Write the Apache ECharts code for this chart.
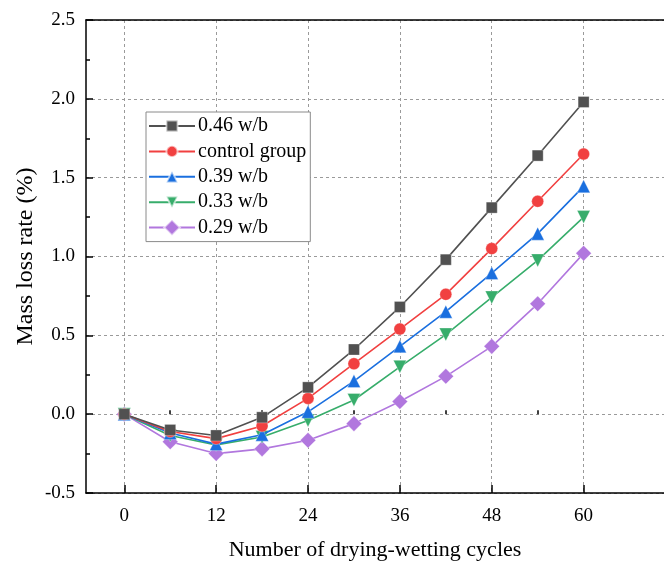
<!DOCTYPE html>
<html>
<head>
<meta charset="utf-8">
<script src="https://cdn.jsdelivr.net/npm/echarts@6/dist/echarts.min.js"></script>
<style>html,body{margin:0;padding:0;background:#fff}#c{width:664px;height:563px}</style>
</head>
<body>
<div id="c"></div>
<script>
const cycles = [0, 6, 12, 18, 24, 30, 36, 42, 48, 54, 60];
const seriesNames = ['0.46 w/b', 'control group', '0.39 w/b', '0.33 w/b', '0.29 w/b'];
const wb046 = [0, -0.10, -0.135, -0.02, 0.17, 0.41, 0.68, 0.98, 1.31, 1.64, 1.98];
const control = [0, -0.11, -0.155, -0.075, 0.10, 0.32, 0.54, 0.76, 1.05, 1.35, 1.65];
const wb039 = [0, -0.12, -0.19, -0.13, 0.015, 0.21, 0.43, 0.65, 0.895, 1.145, 1.445];
const wb033 = [0, -0.135, -0.195, -0.145, -0.04, 0.09, 0.30, 0.505, 0.74, 0.975, 1.25];
const wb029 = [0, -0.175, -0.25, -0.22, -0.165, -0.06, 0.08, 0.24, 0.43, 0.70, 1.02];
const majorX = [0, 12, 24, 36, 48, 60];
const minorX = [6, 18, 30, 42, 54];
const xTitle = 'Number of drying-wetting cycles';
const yTitle = 'Mass loss rate (%)';

const FONT = 'Liberation Serif';
const colors = ['#515151', '#F14040', '#1A6FDF', '#37AD6B', '#B177DE'];
const symbols = ['rect', 'circle', 'triangle', 'triangle', 'rect'];
const symbolSizes = [11, 12, 13, 13, 11];
const rotates = [0, 0, 0, 180, 45];
const allData = [wb046, control, wb039, wb033, wb029];

const chart = echarts.init(document.getElementById('c'), null, {renderer: 'canvas'});
const xCommon = {type: 'value', min: -5, max: 70.5};
chart.setOption({
  animation: false,
  color: colors,
  grid: {left: 86, top: 20, right: 0, height: 473, show: false, outerBoundsMode: 'none', containLabel: false},
  legend: {
    orient: 'vertical', left: 146, top: 112,
    borderColor: '#8a8a8a', borderWidth: 1, backgroundColor: '#fff',
    padding: [4, 4, 4, 2], itemWidth: 46, itemHeight: 14, itemGap: 5.4,
    textStyle: {fontFamily: FONT, fontSize: 20, lineHeight: 16, color: '#000', padding: [0, 0, 0, -2]},
    data: seriesNames
  },
  xAxis: [
    Object.assign({}, xCommon, {
      name: xTitle, nameLocation: 'middle', nameGap: 46, nameMoveOverlap: false,
      nameTextStyle: {fontFamily: FONT, fontSize: 22, color: '#000'},
      axisLine: {show: true, onZero: false, lineStyle: {color: '#000', width: 1.5}},
      axisTick: {show: true, inside: true, length: 8, customValues: majorX, lineStyle: {color: '#000', width: 1.5}},
      axisLabel: {customValues: majorX, fontFamily: FONT, fontSize: 19, color: '#000', margin: 14},
      splitLine: {show: true, lineStyle: {color: '#9a9a9a', type: [3, 3], width: 1}}
    }),
    Object.assign({}, xCommon, {
      position: 'bottom',
      axisLine: {show: false},
      axisTick: {show: true, inside: true, length: 4, customValues: minorX, lineStyle: {color: '#000', width: 1.5}},
      axisLabel: {show: false, customValues: minorX},
      splitLine: {show: false}
    }),
    Object.assign({}, xCommon, {
      position: 'top',
      axisLine: {show: true, onZero: false, lineStyle: {color: '#000', width: 1.5}},
      axisTick: {show: false},
      axisLabel: {show: false},
      splitLine: {show: false}
    })
  ],
  yAxis: {
    type: 'value', min: -0.5, max: 2.5, interval: 0.5,
    name: yTitle, nameLocation: 'middle', nameGap: 48, nameMoveOverlap: false,
    nameTextStyle: {fontFamily: FONT, fontSize: 24, color: '#000'},
    axisLine: {show: true, onZero: false, lineStyle: {color: '#000', width: 1.5}},
    axisTick: {show: true, inside: true, length: 7, lineStyle: {color: '#000', width: 1.5}},
    minorTick: {show: true, splitNumber: 2, length: 4, lineStyle: {color: '#000', width: 1.5}},
    axisLabel: {fontFamily: FONT, fontSize: 19, color: '#000', margin: 11, formatter: v => v.toFixed(1)},
    splitLine: {show: true, lineStyle: {color: '#9a9a9a', type: [3, 3], width: 1}}
  },
  series: seriesNames.map((n, i) => ({
    name: n, type: 'line', xAxisIndex: 0,
    data: cycles.map((c, j) => [c, allData[i][j]]),
    symbol: symbols[i], symbolSize: symbolSizes[i], symbolRotate: rotates[i],
    showAllSymbol: true,
    lineStyle: {color: colors[i], width: 1.6},
    itemStyle: {color: colors[i], borderColor: 'rgba(255,255,255,0.6)', borderWidth: 0.5},
    z: 10 - i
  }))
});
</script>
</body>
</html>
